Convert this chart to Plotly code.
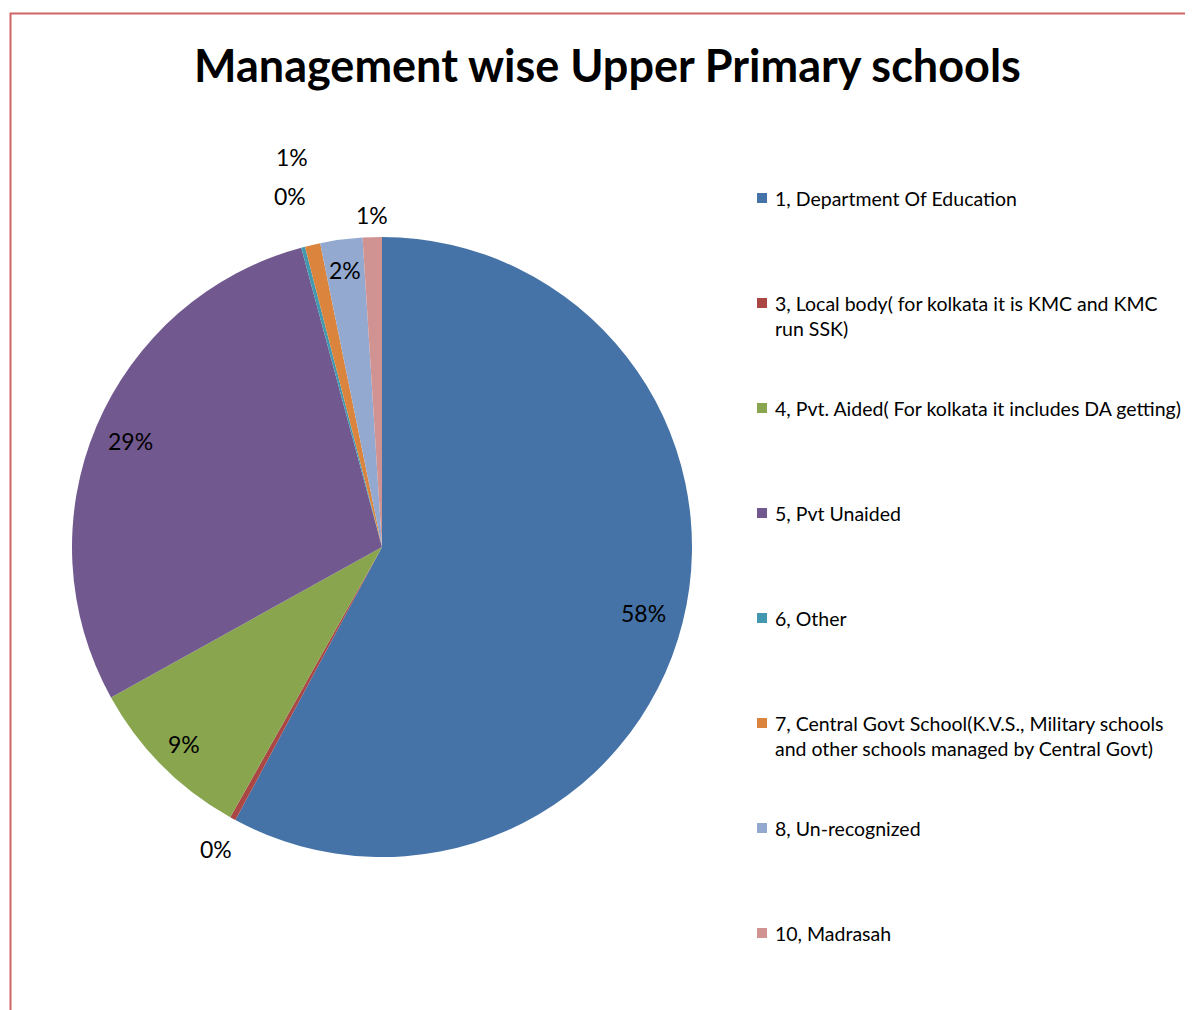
import math
import plotly.graph_objects as go

# ---- data ----
categories = [
    "1, Department Of Education",
    "3, Local body( for kolkata it is KMC and KMC<br>run SSK)",
    "4, Pvt. Aided( For kolkata it includes DA getting)",
    "5, Pvt Unaided",
    "6, Other",
    "7, Central Govt School(K.V.S., Military schools<br>and other schools managed by Central Govt)",
    "8, Un-recognized",
    "10, Madrasah",
]
values = [57.9, 0.3, 8.8, 28.9, 0.2, 0.8, 2.2, 1.0]
pct_labels = ["58%", "0%", "9%", "29%", "0%", "1%", "2%", "1%"]

# ---- styles ----
colors = ["#4573A7", "#AA4644", "#89A54E", "#71588F", "#4198AF", "#DB843D", "#93A9CF", "#D19392"]
label_radius = [0.87, 1.11, 0.90, 0.88, 1.17, 1.29, 0.90, 1.07]

W, H = 1193, 1010
OFF = 8  # page body margin
CX, CY, R = 382, 547, 310
FONT = "Lato, 'Open Sans', sans-serif"

def px_to_paper(x, y):
    return (x - OFF) / W, 1 - (y - OFF) / H

dx0, dy0 = px_to_paper(CX - R, CY + R)
dx1, dy1 = px_to_paper(CX + R, CY - R)

fig = go.Figure()
fig.add_trace(go.Pie(
    labels=categories,
    values=values,
    sort=False,
    direction="clockwise",
    rotation=0,
    marker=dict(colors=colors, line=dict(width=0)),
    textinfo="none",
    hoverinfo="label+percent",
    showlegend=False,
    domain=dict(x=[dx0, dx1], y=[dy0, dy1]),
))

annotations = []
total = sum(values)
cum = 0.0
for v, lab, f in zip(values, pct_labels, label_radius):
    mid = (cum + v / 2) / total * 2 * math.pi
    cum += v
    x = CX + R * f * math.sin(mid)
    y = CY - R * f * math.cos(mid)
    px, py = px_to_paper(x, y)
    annotations.append(dict(x=px, y=py, xref="paper", yref="paper", text=lab,
                            showarrow=False, xanchor="center", yanchor="middle",
                            font=dict(family=FONT, size=23, color="#000000")))

# manual legend
shapes = []
leg_x_sq = 757
leg_x_txt = 773
leg_y0 = 198
leg_step = 105
for i, (cat, col) in enumerate(zip(categories, colors)):
    ly = leg_y0 + i * leg_step
    x0, y0 = px_to_paper(leg_x_sq, ly - 5)
    x1, y1 = px_to_paper(leg_x_sq + 10, ly + 5)
    shapes.append(dict(type="rect", xref="paper", yref="paper", x0=x0, x1=x1, y0=y1, y1=y0,
                       fillcolor=col, line=dict(width=0)))
    tx, ty = px_to_paper(leg_x_txt, ly - 13)
    annotations.append(dict(x=tx, y=ty, xref="paper", yref="paper", text=cat,
                            showarrow=False, xanchor="left", yanchor="top", align="left",
                            font=dict(family=FONT, size=19.5, color="#000000")))

# border
bx0, by0 = px_to_paper(10.5, 13.5)
bx1, by1 = px_to_paper(W + 20, H + 20)
shapes.append(dict(type="rect", xref="paper", yref="paper", x0=bx0, x1=bx1, y0=by1, y1=by0,
                   line=dict(color="#D06565", width=2), fillcolor="rgba(0,0,0,0)", layer="above"))

tx, ty = px_to_paper(607, 65)
annotations.append(dict(x=tx, y=ty, xref="paper", yref="paper",
                        text="<b>Management wise Upper Primary schools</b>",
                        showarrow=False, xanchor="center", yanchor="middle",
                        font=dict(family=FONT, size=45, color="#000000")))

fig.update_layout(
    width=W, height=H,
    margin=dict(l=0, r=0, t=0, b=0),
    paper_bgcolor="white",
    plot_bgcolor="white",
    annotations=annotations,
    shapes=shapes,
)

fig.write_html("out.html")
